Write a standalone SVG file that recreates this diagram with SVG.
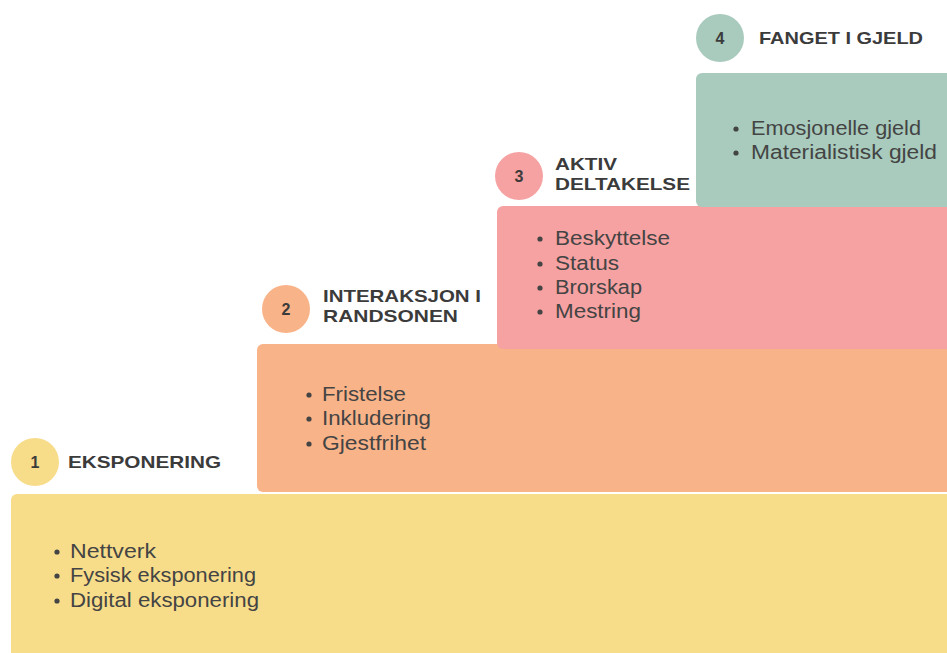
<svg xmlns="http://www.w3.org/2000/svg" width="947" height="653" viewBox="0 0 947 653">
<style>
.t{font-family:"Liberation Sans",Arial,sans-serif;font-weight:bold;font-size:17px;fill:#3b3b3b}
.n{font-family:"Liberation Sans",Arial,sans-serif;font-weight:bold;font-size:16px;fill:#3b3b3b;text-anchor:middle}
.b{font-family:"Liberation Sans",Arial,sans-serif;font-size:20px;fill:#444}
.d{fill:#444}
</style>
<rect width="947" height="653" fill="#fff"/>
<g id="step1">
<rect x="11" y="494" width="950" height="170" rx="6" fill="#F7DC8A"/>
<circle cx="35" cy="462" r="24" fill="#F7DC8A"/>
<text class="n" x="35" y="468">1</text>
<text class="t" x="68" y="468" textLength="153" lengthAdjust="spacingAndGlyphs">EKSPONERING</text>
<circle class="d" cx="57" cy="552" r="2.6"/><circle class="d" cx="57" cy="576" r="2.6"/><circle class="d" cx="57" cy="601" r="2.6"/>
<text class="b" lengthAdjust="spacingAndGlyphs"><tspan x="70" y="558" textLength="86" lengthAdjust="spacingAndGlyphs">Nettverk</tspan><tspan x="70" y="582" textLength="186" lengthAdjust="spacingAndGlyphs">Fysisk eksponering</tspan><tspan x="70" y="607" textLength="189" lengthAdjust="spacingAndGlyphs">Digital eksponering</tspan></text>
</g>
<g id="step2">
<rect x="257" y="344" width="700" height="148" rx="6" fill="#F9B388"/>
<circle cx="286" cy="309" r="24" fill="#F9B388"/>
<text class="n" x="286" y="315">2</text>
<text class="t"><tspan x="323" y="302" textLength="158" lengthAdjust="spacingAndGlyphs">INTERAKSJON I</tspan><tspan x="323" y="322" textLength="135" lengthAdjust="spacingAndGlyphs">RANDSONEN</tspan></text>
<circle class="d" cx="309" cy="395" r="2.6"/><circle class="d" cx="309" cy="419" r="2.6"/><circle class="d" cx="309" cy="444" r="2.6"/>
<text class="b"><tspan x="322" y="401" textLength="84" lengthAdjust="spacingAndGlyphs">Fristelse</tspan><tspan x="322" y="425" textLength="109" lengthAdjust="spacingAndGlyphs">Inkludering</tspan><tspan x="322" y="450" textLength="104" lengthAdjust="spacingAndGlyphs">Gjestfrihet</tspan></text>
</g>
<g id="step3">
<rect x="497" y="206" width="460" height="143" rx="6" fill="#F6A2A2"/>
<circle cx="519" cy="176" r="24" fill="#F6A2A2"/>
<text class="n" x="519" y="182">3</text>
<text class="t"><tspan x="555" y="170" textLength="62" lengthAdjust="spacingAndGlyphs">AKTIV</tspan><tspan x="555" y="190" textLength="135" lengthAdjust="spacingAndGlyphs">DELTAKELSE</tspan></text>
<circle class="d" cx="540" cy="239" r="2.6"/><circle class="d" cx="540" cy="264" r="2.6"/><circle class="d" cx="540" cy="288" r="2.6"/><circle class="d" cx="540" cy="312" r="2.6"/>
<text class="b"><tspan x="555" y="245" textLength="115" lengthAdjust="spacingAndGlyphs">Beskyttelse</tspan><tspan x="555" y="270" textLength="64" lengthAdjust="spacingAndGlyphs">Status</tspan><tspan x="555" y="294" textLength="87" lengthAdjust="spacingAndGlyphs">Brorskap</tspan><tspan x="555" y="318" textLength="86" lengthAdjust="spacingAndGlyphs">Mestring</tspan></text>
</g>
<g id="step4">
<rect x="696" y="73" width="260" height="134" rx="6" fill="#A8CBBD"/>
<circle cx="720" cy="38" r="24" fill="#A8CBBD"/>
<text class="n" x="720" y="44">4</text>
<text class="t" x="759" y="44" textLength="164" lengthAdjust="spacingAndGlyphs">FANGET I GJELD</text>
<circle class="d" cx="736" cy="129" r="2.6"/><circle class="d" cx="736" cy="153" r="2.6"/>
<text class="b"><tspan x="751" y="135" textLength="170" lengthAdjust="spacingAndGlyphs">Emosjonelle gjeld</tspan><tspan x="751" y="159" textLength="186" lengthAdjust="spacingAndGlyphs">Materialistisk gjeld</tspan></text>
</g>
<g id="connectors"/>
</svg>
